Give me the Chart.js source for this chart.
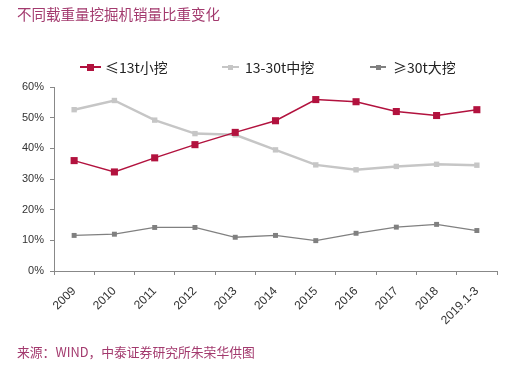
<!DOCTYPE html>
<html>
<head>
<meta charset="utf-8">
<script src="https://cdn.jsdelivr.net/npm/chart.js@4/dist/chart.umd.min.js"></script>
<style>
  html, body { margin: 0; padding: 0; background: #fff; }
  #wrap { position: relative; width: 523px; height: 369px; overflow: hidden; }
  #c { position: absolute; left: 0; top: 0; }
  .title { position: absolute; left: 17px; top: 5px; font: 14.5px "Noto Sans CJK SC", sans-serif; color: #a33a6e; line-height: 18px; white-space: nowrap; }
  .source { position: absolute; left: 17px; top: 344px; font: 12.8px "Noto Sans CJK SC", sans-serif; color: #a33a6e; line-height: 16px; white-space: nowrap; }
  .lg { position: absolute; top: 58px; height: 18px; font: 14px "Noto Sans CJK SC", sans-serif; color: #222; line-height: 18px; white-space: nowrap; }
  .lg .ln { position: absolute; top: 8px; height: 2px; }
  .lg .sq { position: absolute; }
  .lg .tx { position: absolute; top: 0; }
</style>
</head>
<body>
<div id="wrap">
  <canvas id="c" width="523" height="369"></canvas>
  <div class="title">不同载重量挖掘机销量比重变化</div>
  <div id="legend"></div>
  <div class="source">来源：WIND，中泰证券研究所朱荣华供图</div>
</div>
<script>
const categories = ['2009','2010','2011','2012','2013','2014','2015','2016','2017','2018','2019.1-3'];
const seriesNames = ['≤13t小挖','13-30t中挖','≥30t大挖'];
const small = [36.0, 32.3, 36.9, 41.2, 45.2, 49.0, 55.9, 55.2, 52.0, 50.7, 52.6];
const medium = [52.6, 55.6, 49.2, 44.8, 44.4, 39.5, 34.6, 33.0, 34.1, 34.8, 34.5];
const large = [11.6, 12.0, 14.2, 14.2, 11.0, 11.6, 9.9, 12.3, 14.3, 15.2, 13.2];
const yTicks = [0, 10, 20, 30, 40, 50, 60];

const colors = ['#b2123e', '#c6c6c6', '#808080'];

// HTML legend
const legendSpec = [
  { x: 80, lineW: 21, sq: 7, lw: 1.5, textX: 105 },
  { x: 222, lineW: 17, sq: 5, lw: 2.5, textX: 245 },
  { x: 370, lineW: 16, sq: 5, lw: 1.5, textX: 393 }
];
const legendEl = document.getElementById('legend');
seriesNames.forEach((name, i) => {
  const s = legendSpec[i];
  const d = document.createElement('div');
  d.className = 'lg';
  d.style.left = s.x + 'px';
  d.style.width = '120px';
  d.innerHTML =
    `<div class="ln" style="left:0;width:${s.lineW}px;background:${colors[i]};height:${s.lw}px;top:${9 - s.lw/2}px"></div>` +
    `<div class="sq" style="left:${s.lineW/2 - s.sq/2}px;top:${9 - s.sq/2}px;width:${s.sq}px;height:${s.sq}px;background:${colors[i]}"></div>` +
    `<div class="tx" style="left:${s.textX - s.x}px">${name}</div>`;
  legendEl.appendChild(d);
});

const tickFont = { family: '"Liberation Sans", Arial, sans-serif', size: 11 };
const xTickFont = { family: '"Liberation Sans", Arial, sans-serif', size: 12 };

new Chart(document.getElementById('c'), {
  type: 'line',
  data: {
    labels: categories,
    datasets: [
      { label: seriesNames[0], data: small, borderColor: colors[0], backgroundColor: colors[0],
        borderWidth: 1.5, pointStyle: 'rect', pointRadius: 5, pointBorderWidth: 0, tension: 0 },
      { label: seriesNames[1], data: medium, borderColor: colors[1], backgroundColor: colors[1],
        borderWidth: 2.5, pointStyle: 'rect', pointRadius: 3.8, pointBorderWidth: 0, tension: 0 },
      { label: seriesNames[2], data: large, borderColor: colors[2], backgroundColor: colors[2],
        borderWidth: 1.3, pointStyle: 'rect', pointRadius: 3.5, pointBorderWidth: 0, tension: 0 }
    ]
  },
  options: {
    responsive: false,
    devicePixelRatio: 1,
    animation: false,
    layout: { padding: { top: 87, right: 26, left: 0, bottom: 0 } },
    plugins: { legend: { display: false }, tooltip: { enabled: false } },
    scales: {
      x: {
        offset: true,
        grid: { offset: true, drawOnChartArea: false, drawTicks: true, tickLength: 4, color: '#888' },
        border: { color: '#888', width: 1 },
        ticks: { maxRotation: 45, minRotation: 45, font: xTickFont, color: '#333', padding: 9, autoSkip: false },
        afterFit: (s) => { s.height = 98; }
      },
      y: {
        min: 0, max: 60,
        afterBuildTicks: (s) => { s.ticks = yTicks.map(v => ({ value: v })); },
        grid: { drawOnChartArea: false, drawTicks: true, tickLength: 4, color: '#888' },
        border: { color: '#888', width: 1 },
        ticks: { font: tickFont, color: '#333', padding: 6, callback: (v) => v + '%' },
        afterFit: (s) => { s.width = 54; }
      }
    }
  }
});
</script>
</body>
</html>
